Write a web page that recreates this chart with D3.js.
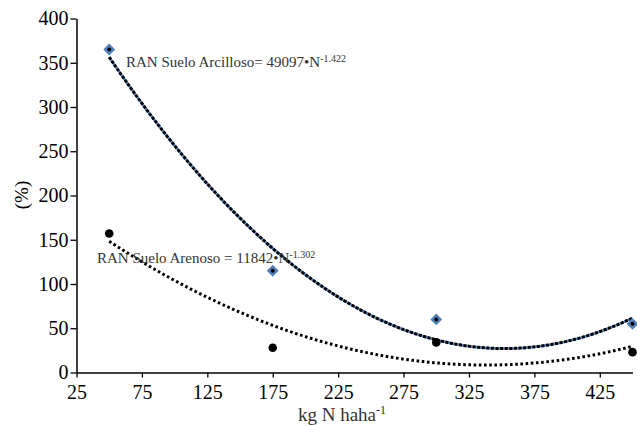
<!DOCTYPE html>
<html lang="es">
<head>
<meta charset="utf-8">
<title>RAN suelo arcilloso / arenoso</title>
<script src="https://cdn.jsdelivr.net/npm/d3@7"></script>
<style>
  @font-face {
    font-family: "ChartSerif";
    src: local("Liberation Serif"), local("LiberationSerif"), local("LiberationSerif-Regular");
  }
  body { margin: 0; background: #fff; font-family: "Liberation Serif"; }
  #ran-chart { font-family: "Liberation Serif"; }
  svg { display: block; }
</style>
</head>
<body>
<div id="ran-chart"></div>
<script>
// datos
const doses = [50, 175, 300, 450];
const arcilloso = [365, 115, 60, 55];
const arenoso = [157, 28, 34, 23];
const xTicks = [25, 75, 125, 175, 225, 275, 325, 375, 425];
const yTicks = [0, 50, 100, 150, 200, 250, 300, 350, 400];

const WIDTH = 637;
const HEIGHT = 425;
const BLUE = '#4f81bd';
const SERIF = '"Liberation Serif", ChartSerif';

// least squares 2nd order fit, used for the trend lines
function quadFit(xs, ys) {
  let s = [0, 0, 0, 0, 0], t = [0, 0, 0];
  xs.forEach((x, i) => {
    for (let k = 0; k < 5; k++) s[k] += Math.pow(x, k);
    for (let k = 0; k < 3; k++) t[k] += ys[i] * Math.pow(x, k);
  });
  const m = [[s[0], s[1], s[2]], [s[1], s[2], s[3]], [s[2], s[3], s[4]]];
  const det = a => a[0][0] * (a[1][1] * a[2][2] - a[1][2] * a[2][1])
    - a[0][1] * (a[1][0] * a[2][2] - a[1][2] * a[2][0])
    + a[0][2] * (a[1][0] * a[2][1] - a[1][1] * a[2][0]);
  const d = det(m);
  const c = [0, 1, 2].map(j => {
    const mj = m.map((row, r) => row.map((v, col) => col === j ? t[r] : v));
    return det(mj) / d;
  });
  return x => c[0] + c[1] * x + c[2] * x * x;
}

const xScale = d3.scaleLinear().domain([25, 450]).range([76.5, 632.5]);
const yScale = d3.scaleLinear().domain([0, 400]).range([372.5, 18.5]);

const svg = d3.select('#ran-chart').append('svg')
  .attr('width', WIDTH)
  .attr('height', HEIGHT);

// axes
const xAxis = svg.append('g')
  .attr('transform', `translate(0, ${yScale(0)})`)
  .call(d3.axisBottom(xScale).tickValues(xTicks).tickSize(5).tickSizeOuter(0).tickPadding(7));

const yAxis = svg.append('g')
  .attr('transform', `translate(${xScale(25)}, 0)`)
  .call(d3.axisLeft(yScale).tickValues(yTicks).tickSize(6).tickSizeOuter(0).tickPadding(2));

[xAxis, yAxis].forEach(ax => {
  ax.attr('font-family', null).attr('font-size', null);
  ax.select('.domain').attr('stroke', '#000').attr('stroke-width', 1.5);
  ax.selectAll('.tick line').attr('stroke', '#000').attr('stroke-width', 1.3);
  ax.selectAll('.tick text')
    .attr('fill', '#000')
    .style('font-family', SERIF)
    .style('font-size', '20px');
});

// trend lines
const fitArc = quadFit(doses, arcilloso);
const fitAre = quadFit(doses, arenoso);
const xs = d3.range(doses[0], doses[doses.length - 1] + 0.1, 2);

const line = fn => d3.line()
  .x(d => xScale(d))
  .y(d => yScale(fn(d)));

svg.append('path')
  .attr('d', line(fitArc)(xs))
  .attr('fill', 'none')
  .attr('stroke', BLUE)
  .attr('stroke-width', 2.5);

svg.append('path')
  .attr('d', line(fitArc)(xs))
  .attr('fill', 'none')
  .attr('stroke', '#000')
  .attr('stroke-width', 3)
  .attr('stroke-dasharray', '3,1.6');

svg.append('path')
  .attr('d', line(fitAre)(xs))
  .attr('fill', 'none')
  .attr('stroke', '#000')
  .attr('stroke-width', 3)
  .attr('stroke-dasharray', '2.6,2.6');

// points, suelo arenoso
svg.selectAll('.dot-are').data(doses).enter().append('circle')
  .attr('class', 'dot-are')
  .attr('cx', d => xScale(d))
  .attr('cy', (d, i) => yScale(arenoso[i]))
  .attr('r', 4.3)
  .attr('fill', '#000');

// points, suelo arcilloso
const diamond = d3.symbol().type(d3.symbolDiamond2).size(90);
const arcPts = svg.selectAll('.dot-arc').data(doses).enter().append('g')
  .attr('class', 'dot-arc')
  .attr('transform', (d, i) => `translate(${xScale(d)}, ${yScale(arcilloso[i])})`);
arcPts.append('path').attr('d', diamond()).attr('fill', BLUE);
arcPts.append('circle').attr('r', 2).attr('fill', '#000');

// equation labels
function equation(x, y, main, sup) {
  const t = svg.append('text')
    .attr('x', x)
    .attr('y', y)
    .attr('fill', '#333')
    .style('font-family', SERIF)
    .style('font-size', '15px');
  t.append('tspan').text(main);
  t.append('tspan').attr('dy', -5).style('font-size', '10px').text(sup);
}
equation(126, 67, 'RAN Suelo Arcilloso= 49097•N', '-1.422');
equation(97, 263, 'RAN Suelo Arenoso = 11842•N', '-1.302');

// axis titles
const xt = svg.append('text')
  .attr('x', 342)
  .attr('y', 421)
  .attr('text-anchor', 'middle')
  .attr('fill', '#333')
  .style('font-family', SERIF)
  .style('font-size', '19px');
xt.append('tspan').text('kg N haha');
xt.append('tspan').attr('dy', -7).style('font-size', '12px').text('-1');

svg.append('text')
  .attr('transform', 'translate(28, 195) rotate(-90)')
  .attr('text-anchor', 'middle')
  .attr('fill', '#000')
  .style('font-family', SERIF)
  .style('font-size', '19px')
  .text('(%)');
</script>
</body>
</html>
